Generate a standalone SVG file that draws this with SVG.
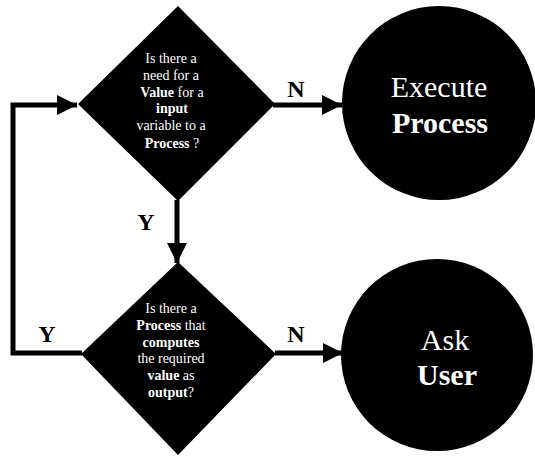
<svg xmlns="http://www.w3.org/2000/svg" width="535" height="457" viewBox="0 0 535 457">
<style>
.shape{fill:#000}
.conn{fill:none;stroke:#000;stroke-width:5;marker-end:url(#arr)}
.q{font-family:"Liberation Serif","Times New Roman",serif;font-size:14px;fill:#fff;text-anchor:middle}
.b{font-weight:bold}
.lbl{font-family:"Liberation Serif","Times New Roman",serif;font-size:24px;font-weight:bold;fill:#000;text-anchor:middle}
.big{font-family:"Liberation Serif","Times New Roman",serif;font-size:30px;fill:#fff;text-anchor:middle}
</style>
<defs>
<marker id="arr" viewBox="0 0 20 20" refX="20" refY="10" markerWidth="20" markerHeight="20" markerUnits="userSpaceOnUse" orient="auto">
<path d="M0,0 L20,10 L0,20 z" fill="#000"/>
</marker>
</defs>
<rect width="535" height="457" fill="#fff"/>
<g id="connectors">
<path class="conn" d="M82,353 H13 V105 H77"/>
<path class="conn" d="M177,200 V263"/>
<path class="conn" d="M273,105 H342"/>
<path class="conn" d="M275,353 H343"/>
<text class="lbl" x="296" y="97">N</text>
<text class="lbl" x="296" y="342">N</text>
<text class="lbl" x="146" y="230">Y</text>
<text class="lbl" x="47" y="342">Y</text>
</g>
<g id="decision1">
<polygon class="shape" points="178,6 275,104 178,201 78,104"/>
<text class="q" x="171" y="63">Is there a</text>
<text class="q" x="171" y="80">need for a</text>
<text class="q" x="172" y="97"><tspan class="b">Value</tspan> for a</text>
<text class="q b" x="172" y="113">input</text>
<text class="q" x="171" y="130">variable to a</text>
<text class="q" x="172" y="148"><tspan class="b">Process</tspan> ?</text>
</g>
<g id="decision2">
<polygon class="shape" points="178,262 276,354 178,455 81,354"/>
<text class="q" x="171" y="313">Is there a</text>
<text class="q" x="171" y="330"><tspan class="b">Process</tspan> that</text>
<text class="q b" x="171" y="347">computes</text>
<text class="q" x="171" y="363">the required</text>
<text class="q" x="171" y="380"><tspan class="b">value</tspan> as</text>
<text class="q" x="171" y="397"><tspan class="b">output</tspan>?</text>
</g>
<g id="execute">
<circle class="shape" cx="439" cy="103" r="97"/>
<text class="big" x="439" y="97">Execute</text>
<text class="big b" x="440" y="133">Process</text>
</g>
<g id="ask">
<circle class="shape" cx="437" cy="355" r="96"/>
<text class="big" x="445" y="350" font-size="28">Ask</text>
<text class="big b" x="447" y="385" font-size="28">User</text>
</g>
</svg>
